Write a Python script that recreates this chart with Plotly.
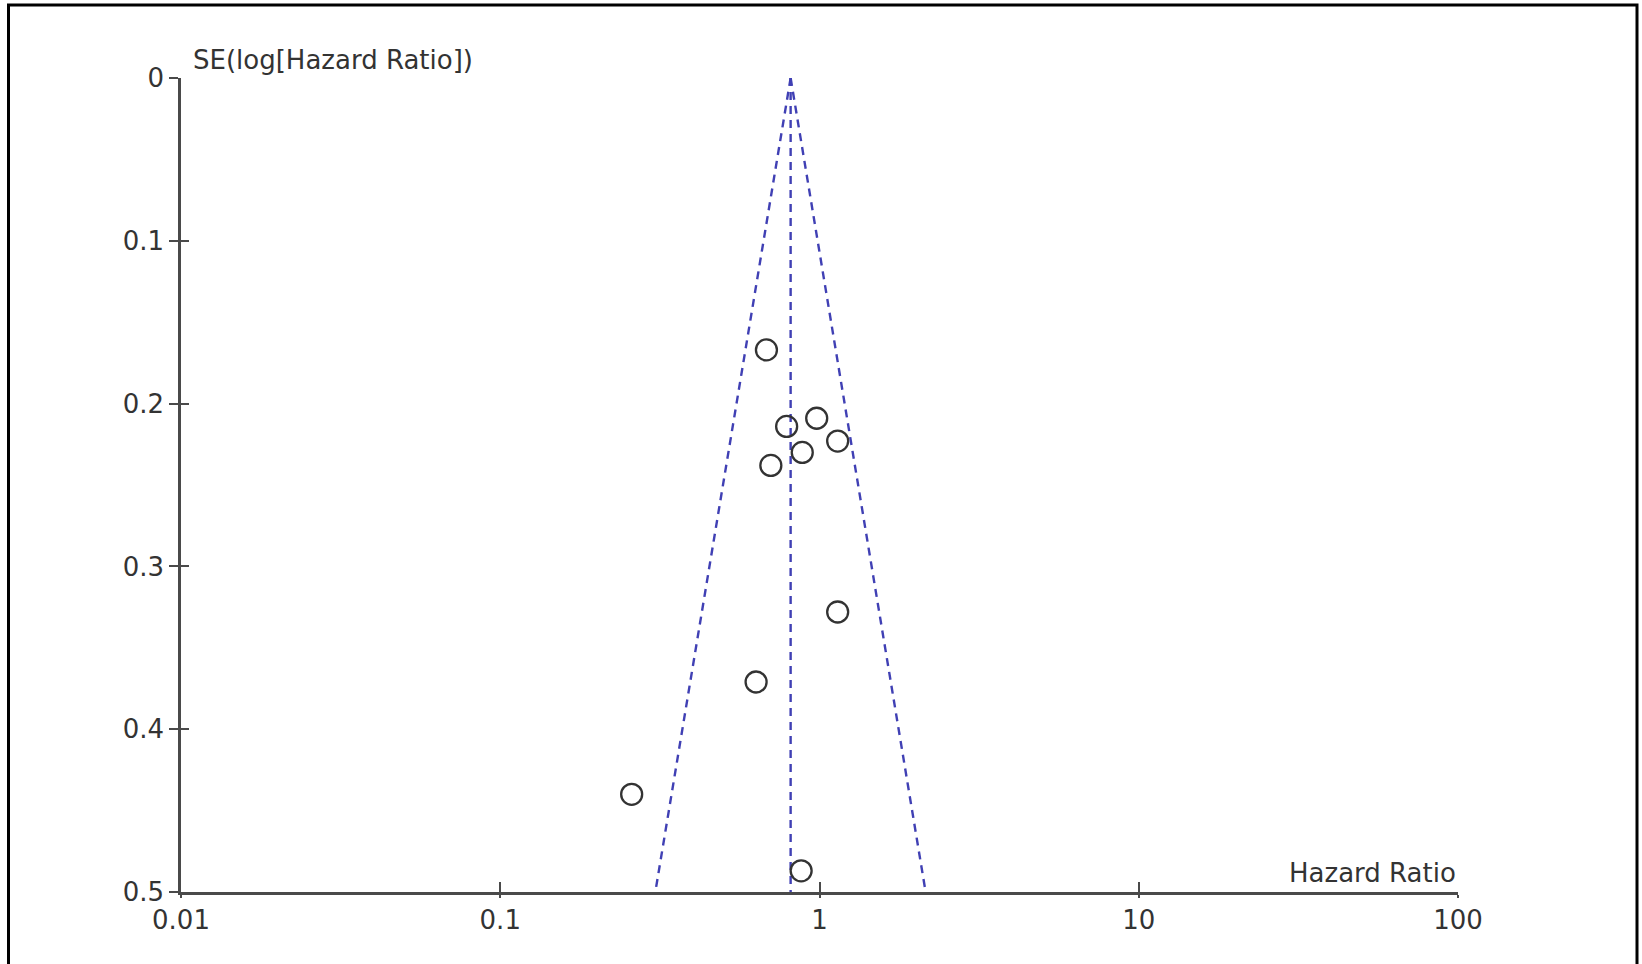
import plotly.graph_objects as go

# Study estimates
hazard_ratio = [0.682, 0.98, 0.789, 1.14, 0.883, 0.704, 1.14, 0.633, 0.258, 0.876]
se_log_hr = [0.167, 0.209, 0.214, 0.223, 0.230, 0.238, 0.328, 0.371, 0.440, 0.487]

# Funnel (pseudo 95% limits) and pooled estimate line
funnel_left_x = [0.812, 0.306]
funnel_right_x = [0.812, 2.15]
funnel_y = [0.0, 0.5]
pooled_x = [0.812, 0.812]
pooled_y = [0.0, 0.5]

x_tickvals = [0.01, 0.1, 1, 10, 100]
x_ticktext = ["0.01", "0.1", "1", "10", "100"]
y_tickvals = [0, 0.1, 0.2, 0.3, 0.4, 0.5]
y_ticktext = ["0", "0.1", "0.2", "0.3", "0.4", "0.5"]

FONT = "DejaVu Sans"
AXC = "#4a4a4a"
TXT = "#333333"
BLUE = "#4040b4"

fig = go.Figure()
dash = "8px,6px"
for xs, ys in [(funnel_left_x, funnel_y), (funnel_right_x, funnel_y), (pooled_x, pooled_y)]:
    fig.add_trace(go.Scatter(x=xs, y=ys, mode="lines",
                             line=dict(color=BLUE, width=2.4, dash=dash),
                             hoverinfo="skip", showlegend=False, cliponaxis=False))

fig.add_trace(go.Scatter(x=hazard_ratio, y=se_log_hr, mode="markers",
                         marker=dict(symbol="circle-open", size=21, color=TXT,
                                     line=dict(color=TXT, width=2.3)),
                         showlegend=False, cliponaxis=False))

# invisible trace for overlay axes (cross-through ticks)
fig.add_trace(go.Scatter(x=[1], y=[0.25], xaxis="x2", yaxis="y2", mode="markers",
                         marker=dict(opacity=0), showlegend=False, hoverinfo="skip"))

W, H = 1642, 964
left, right, top, bottom = 181, 1458, 78, 892

axis_common = dict(showgrid=False, zeroline=False, showline=True, linecolor=AXC,
                   linewidth=2.5, tickcolor=AXC, tickwidth=2,
                   tickfont=dict(family=FONT, size=26, color=TXT))

fig.update_layout(
    width=W, height=H,
    margin=dict(l=left, r=W - right, t=top, b=H - bottom),
    paper_bgcolor="white", plot_bgcolor="white",
    xaxis=dict(type="log", range=[-2, 2], tickvals=x_tickvals, ticktext=x_ticktext,
               ticks="outside", ticklen=3, **axis_common),
    yaxis=dict(range=[0.5, 0], tickvals=y_tickvals, ticktext=y_ticktext,
               ticks="outside", ticklen=9, **axis_common),
    xaxis2=dict(type="log", range=[-2, 2], overlaying="x", anchor="y2", side="bottom",
                tickvals=x_tickvals,
                showticklabels=False, ticks="inside", ticklen=10, tickcolor=AXC,
                tickwidth=2, showgrid=False, zeroline=False, showline=False),
    yaxis2=dict(range=[0.5, 0], overlaying="y", anchor="x2", side="left",
                tickvals=y_tickvals,
                showticklabels=False, ticks="inside", ticklen=8, tickcolor=AXC,
                tickwidth=2, showgrid=False, zeroline=False, showline=False),
    annotations=[
        dict(text="SE(log[Hazard Ratio])", xref="paper", yref="paper",
             x=0.008, y=(bottom - 60) / (bottom - top), xanchor="left", yanchor="middle",
             showarrow=False, font=dict(family=FONT, size=26, color=TXT)),
        dict(text="Hazard Ratio", xref="paper", yref="paper",
             x=1.0, y=0, xanchor="right", yanchor="bottom", yshift=2,
             showarrow=False, font=dict(family=FONT, size=26, color=TXT)),
    ],
    shapes=[
        dict(type="rect", xref="paper", yref="paper",
             x0=(8.5 - left) / (right - left), x1=(1637 - left) / (right - left),
             y0=(bottom - 975) / (bottom - top), y1=(bottom - 5) / (bottom - top),
             line=dict(color="black", width=3), fillcolor="rgba(0,0,0,0)", layer="below"),
    ],
)

fig.write_html("out.html", config={"displayModeBar": False},
               post_script="document.body.style.margin='0';document.body.style.overflow='hidden';")
